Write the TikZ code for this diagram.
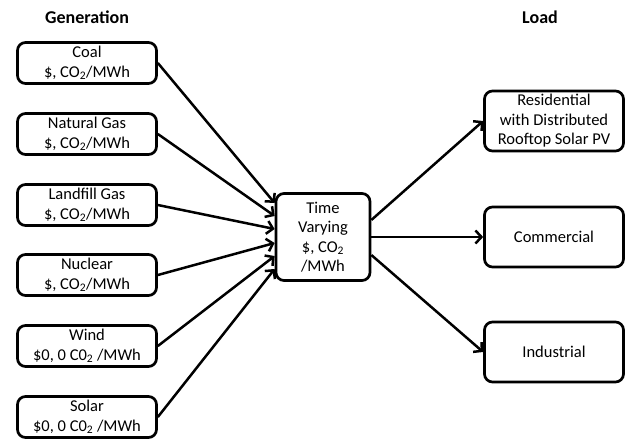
\documentclass[tikz,border=0pt]{standalone}
\usepackage{fontspec}
\setmainfont{Carlito}
\usetikzlibrary{arrows.meta}
\newcommand{\COt}{CO\textsubscript{2}}
\tikzset{
  flowbox/.style={draw,line width=2.7pt,rounded corners=8pt,align=center,inner sep=1pt},
  genbox/.style={flowbox,minimum width=139pt,minimum height=41pt},
  loadbox/.style={flowbox,minimum width=139pt,minimum height=60pt},
  header/.style={font=\fontsize{18}{21}\selectfont\bfseries},
  flow/.style={->,line width=2.5pt}
}

\begin{document}
\begin{tikzpicture}[x=1pt,y=-1pt,>={Straight Barb[length=6pt,width=13pt,line width=2.5pt]},font=\fontsize{16.5}{19.5}\selectfont]
    \useasboundingbox (0,0) rectangle (625,440);
    \node[header] (gen) at (87,17) {Generation};
    \node[header] (load) at (540,17) {Load};
    % generation side
    \node[genbox] (coal) at (87,63) {Coal\\\$, \COt/MWh};
    \node[genbox] (natgas) at (87,134) {Natural Gas\\\$, \COt/MWh};
    \node[genbox] (landfill) at (87,205) {Landfill Gas\\\$, \COt/MWh};
    \node[genbox] (nuclear) at (87,275) {Nuclear\\\$, \COt/MWh};
    \node[genbox] (wind) at (87,346) {Wind\\\$0, 0 C0\textsubscript{2} /MWh};
    \node[genbox] (solar) at (87,417) {Solar\\\$0, 0 C0\textsubscript{2} /MWh};
    % time varying node
    \node[flowbox,minimum width=94pt,minimum height=87pt] (tv) at (323,237) {Time\\Varying\\\$, \COt\\/MWh};
    % load side
    \node[loadbox] (resid) at (554,121) {Residential\\with Distributed\\Rooftop Solar PV};
    \node[loadbox] (comm) at (554,237) {Commercial};
    \node[loadbox] (indus) at (554,352) {Industrial};
    \draw[flow] (coal.east) -- ([yshift=34pt]tv.west);
    \draw[flow] (natgas.east) -- ([yshift=21pt]tv.west);
    \draw[flow] (landfill.east) -- ([yshift=8pt]tv.west);
    \draw[flow] (nuclear.east) -- ([yshift=-6pt]tv.west);
    \draw[flow] (wind.east) -- ([yshift=-19pt]tv.west);
    \draw[flow] (solar.east) -- ([yshift=-32pt]tv.west);
    \draw[flow] ([yshift=17pt]tv.east) -- (resid.west);
    \draw[flow] (tv.east) -- (comm.west);
    \draw[flow] ([yshift=-18pt]tv.east) -- (indus.west);
\end{tikzpicture}
\end{document}
